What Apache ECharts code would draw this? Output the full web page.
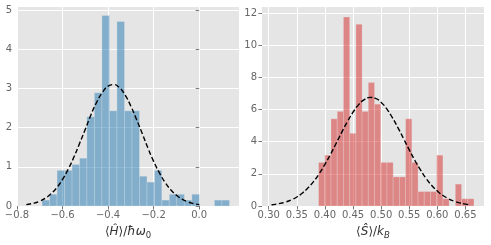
<!DOCTYPE html>
<html><head><meta charset="utf-8">
<script src="https://cdn.jsdelivr.net/npm/echarts@6/dist/echarts.min.js"></script>
<style>html,body{margin:0;padding:0;background:#fff}#c{width:491px;height:245px}</style>
</head><body><div id="c"></div>
<script>
// ---- Left panel: <H>/hbar w0 histogram (density) ----
const leftEdges = [-0.690,-0.657,-0.624,-0.591,-0.558,-0.525,-0.493,-0.460,-0.427,-0.394,-0.361,-0.328,-0.295,-0.262,-0.229,-0.196,-0.164,-0.131,-0.098,-0.065,-0.032,0.001,0.034,0.067,0.100,0.133];
const leftDensity = [0.15,0.30,0.91,0.91,1.06,1.22,2.28,2.89,4.86,2.43,4.71,2.43,2.43,0.76,0.61,0.91,0.15,0.30,0.30,0.15,0.30,0,0,0.15,0.15];
const leftCurveX = [-0.759,-0.725,-0.70,-0.675,-0.65,-0.625,-0.60,-0.575,-0.55,-0.525,-0.50,-0.475,-0.45,-0.425,-0.40,-0.375,-0.35,-0.325,-0.30,-0.275,-0.25,-0.225,-0.20,-0.175,-0.15,-0.125,-0.10,-0.075,-0.05,-0.025,0.001];
const leftCurveY = [0.035,0.074,0.125,0.20,0.315,0.47,0.68,0.94,1.25,1.60,1.96,2.33,2.65,2.90,3.06,3.10,3.02,2.83,2.55,2.21,1.85,1.48,1.14,0.85,0.605,0.415,0.275,0.174,0.106,0.0625,0.035];
const leftXTicks = [-0.8,-0.6,-0.4,-0.2,0.0];
const leftXTickLabels = ['\u22120.8','\u22120.6','\u22120.4','\u22120.2','0.0'];
const leftYTicks = [0,1,2,3,4,5];
const leftYTickLabels = ['0','1','2','3','4','5'];

// ---- Right panel: <S>/kB histogram (density) ----
const rightEdges = [0.3887,0.3998,0.4108,0.4219,0.4329,0.4440,0.4551,0.4661,0.4772,0.4882,0.4993,0.5104,0.5214,0.5325,0.5435,0.5546,0.5657,0.5767,0.5878,0.5988,0.6099,0.6210,0.6320,0.6431,0.6541,0.6652];
const rightDensity = [2.71,3.16,5.42,5.88,11.75,4.52,11.30,5.88,7.68,6.33,2.71,2.71,1.81,1.81,5.42,2.71,0.90,0.90,0.90,3.16,0.45,0,1.36,0.45,0.45];
const rightCurveX = [0.305,0.32,0.33,0.34,0.35,0.36,0.37,0.38,0.39,0.40,0.41,0.42,0.43,0.44,0.45,0.46,0.47,0.48,0.49,0.50,0.51,0.52,0.53,0.54,0.55,0.56,0.57,0.58,0.59,0.60,0.61,0.62,0.63,0.64,0.65,0.659];
const rightCurveY = [0.077,0.16,0.25,0.38,0.56,0.81,1.13,1.53,2.02,2.59,3.22,3.90,4.59,5.25,5.83,6.30,6.61,6.75,6.69,6.44,6.04,5.49,4.86,4.18,3.49,2.83,2.24,1.71,1.28,0.93,0.65,0.45,0.30,0.19,0.12,0.077];
const rightXTicks = [0.30,0.35,0.40,0.45,0.50,0.55,0.60,0.65];
const rightXTickLabels = ['0.30','0.35','0.40','0.45','0.50','0.55','0.60','0.65'];
const rightYTicks = [0,2,4,6,8,10,12];
const rightYTickLabels = ['0','2','4','6','8','10','12'];

function labelFor(ticks, labels){
  return function(v){
    for (let i=0;i<ticks.length;i++){ if (Math.abs(v-ticks[i])<1e-6) return labels[i]; }
    return '';
  };
}
function histRender(color){
  return function(params, api){
    const x0 = api.value(0), x1 = api.value(1), h = api.value(2);
    if (!(h > 0)) return null;
    const p0 = api.coord([x0, h]);
    const p1 = api.coord([x1, 0]);
    return {type:'rect', shape:{x:p0[0], y:p0[1], width:p1[0]-p0[0], height:p1[1]-p0[1]},
      style:{fill:color, stroke:'rgba(238,238,238,0.5)', lineWidth:0.5}};
  };
}
const FONT = 'DejaVu Sans';
const tickColor = '#555555';
function xAxisCfg(idx, min, max, ticks, labels, name){
  return {type:'value', gridIndex:idx, min:min, max:max, splitNumber: idx===0?5:8,
    axisLine:{show:false},
    axisTick:{show:true, length:3.5, lineStyle:{color:tickColor, width:0.8}, customValues:ticks},
    axisLabel:{color:'#666', fontFamily:FONT, fontSize:10, margin:4, customValues:ticks, formatter:labelFor(ticks, labels)},
    splitLine:{show:true, lineStyle:{color:'#ffffff', width:1}},
    name:name, nameLocation:'middle', nameGap:18,
    nameTextStyle:{color:'#333', fontFamily:FONT, fontSize:12, rich:{
      m:{fontFamily:FONT, fontSize:12, color:'#333', lineHeight:16, verticalAlign:'middle'},
      i:{fontFamily:FONT, fontStyle:'italic', fontSize:12, color:'#333', lineHeight:16, verticalAlign:'middle'},
      s:{fontFamily:FONT, fontSize:8.5, color:'#333', lineHeight:8, verticalAlign:'bottom'},
      si:{fontFamily:FONT, fontStyle:'italic', fontSize:8.5, color:'#333', lineHeight:8, verticalAlign:'bottom'}
    }}
  };
}
function yAxisCfg(idx, max, ticks, labels){
  return {type:'value', gridIndex:idx, min:0, max:max, interval: idx===0?1:2,
    axisLine:{show:false},
    axisTick:{show:true, length:3.5, lineStyle:{color:tickColor, width:0.8}, customValues:ticks},
    axisLabel:{color:'#666', fontFamily:FONT, fontSize:10, margin:5, customValues:ticks, formatter:labelFor(ticks, labels)},
    splitLine:{show:true, lineStyle:{color:'#ffffff', width:1}}
  };
}
const chart = echarts.init(document.getElementById('c'), null, {renderer:'canvas'});
chart.setOption({
  animation:false,
  backgroundColor:'#ffffff',
  grid:[
    {left:17, top:7, width:222, height:200, show:true, backgroundColor:'#E5E5E5', borderWidth:0},
    {left:262, top:7, width:222, height:200, show:true, backgroundColor:'#E5E5E5', borderWidth:0}
  ],
  xAxis:[
    xAxisCfg(0, -0.8, 0.175, leftXTicks, leftXTickLabels, '{m|\u27E8}{i|H\u0302}{m|\u27E9/}{i|\u0127\u03C9}{s|0}'),
    xAxisCfg(1, 0.288, 0.683, rightXTicks, rightXTickLabels, '{m|\u27E8}{i|S\u0302}{m|\u27E9/}{i|k}{si|B}')
  ],
  yAxis:[
    yAxisCfg(0, 5.08, leftYTicks, leftYTickLabels),
    yAxisCfg(1, 12.37, rightYTicks, rightYTickLabels)
  ],
  series:[
    {type:'custom', xAxisIndex:0, yAxisIndex:0, renderItem:histRender('rgba(31,119,180,0.5)'),
      encode:{x:[0,1], y:2}, data:leftDensity.map((d,i)=>[leftEdges[i], leftEdges[i+1], d]), z:2},
    {type:'line', xAxisIndex:0, yAxisIndex:0, smooth:true, showSymbol:false, symbol:'none',
      lineStyle:{color:'#000', width:1.4, type:[5,2.5]}, data:leftCurveX.map((x,i)=>[x, leftCurveY[i]]), z:3},
    {type:'custom', xAxisIndex:1, yAxisIndex:1, renderItem:histRender('rgba(214,39,40,0.5)'),
      encode:{x:[0,1], y:2}, data:rightDensity.map((d,i)=>[rightEdges[i], rightEdges[i+1], d]), z:2},
    {type:'line', xAxisIndex:1, yAxisIndex:1, smooth:true, showSymbol:false, symbol:'none',
      lineStyle:{color:'#000', width:1.4, type:[5,2.5]}, data:rightCurveX.map((x,i)=>[x, rightCurveY[i]]), z:3}
  ]
});
</script></body></html>
